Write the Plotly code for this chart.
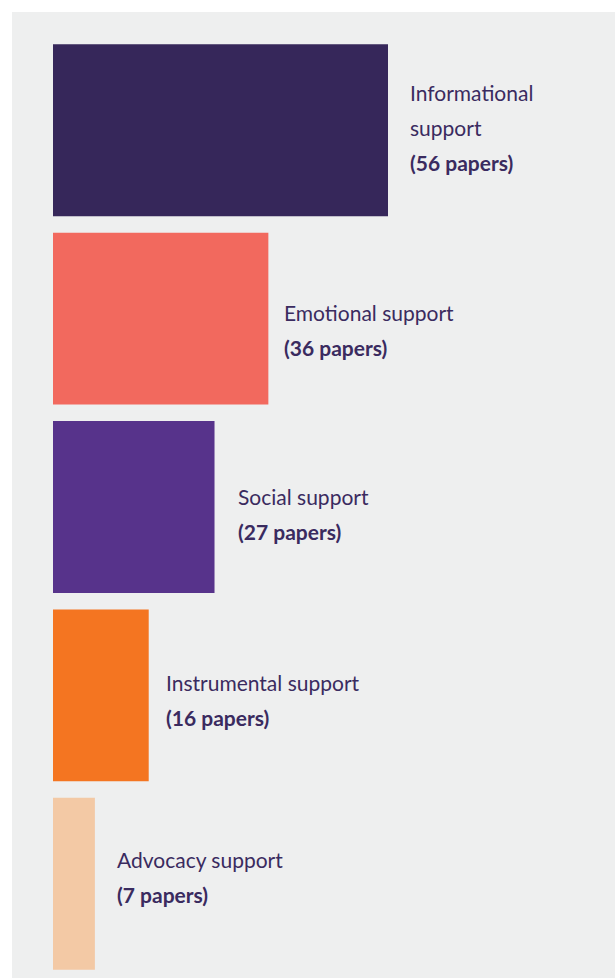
import plotly.graph_objects as go

categories = ["Informational support", "Emotional support", "Social support",
              "Instrumental support", "Advocacy support"]
label_lines = [["Informational", "support"], ["Emotional support"], ["Social support"],
               ["Instrumental support"], ["Advocacy support"]]
papers = [56, 36, 27, 16, 7]
colors = ["#36275A", "#F2695E", "#57338B", "#F47521", "#F3C9A5"]

W, H = 615, 978
ML, MR, MT, MB = 53, 0, 36, 0
pw = W - ML - MR
ph = H - MT - MB
xmax = 56 * pw / 335.0

fig = go.Figure(go.Bar(
    x=papers, y=categories, orientation="h",
    marker=dict(color=colors, line=dict(width=0)),
    hoverinfo="skip",
))

# label placement nudges (pixels)
label_dx = [20, 14, 21, 15, 20]
label_dy = [-3, 11, 7, 5, -7]

text_color = "#3A2B5F"
annotations = []
for k, (cat, val, lines) in enumerate(zip(categories, papers, label_lines)):
    allines = list(lines) + ["<b>(%d papers)</b>" % val]
    n = len(allines)
    for i, t in enumerate(allines):
        annotations.append(dict(
            x=val, y=cat, xref="x", yref="y", text=t, showarrow=False,
            xanchor="left", yanchor="middle", xshift=label_dx[k],
            yshift=((n - 1) / 2.0 - i) * 35 - label_dy[k],
            font=dict(family="Lato", size=21, color=text_color),
        ))

# grey panel starting at (12,12) px
x0 = (12 - ML) / pw
y1 = (H - 12 - MB) / ph
shapes = [dict(type="rect", xref="paper", yref="paper", x0=x0, x1=1.2, y0=-0.1, y1=y1,
               fillcolor="#EEEFEF", line=dict(width=0), layer="below")]

fig.update_layout(
    width=W, height=H,
    margin=dict(l=ML, r=MR, t=MT, b=MB, pad=0),
    paper_bgcolor="white", plot_bgcolor="rgba(0,0,0,0)",
    bargap=0.0875,
    showlegend=False,
    xaxis=dict(range=[0, xmax], visible=False, fixedrange=True),
    yaxis=dict(autorange="reversed", visible=False, fixedrange=True,
               categoryorder="array", categoryarray=categories),
    annotations=annotations, shapes=shapes,
)

fig.write_html("out.html", config={"displayModeBar": False})
